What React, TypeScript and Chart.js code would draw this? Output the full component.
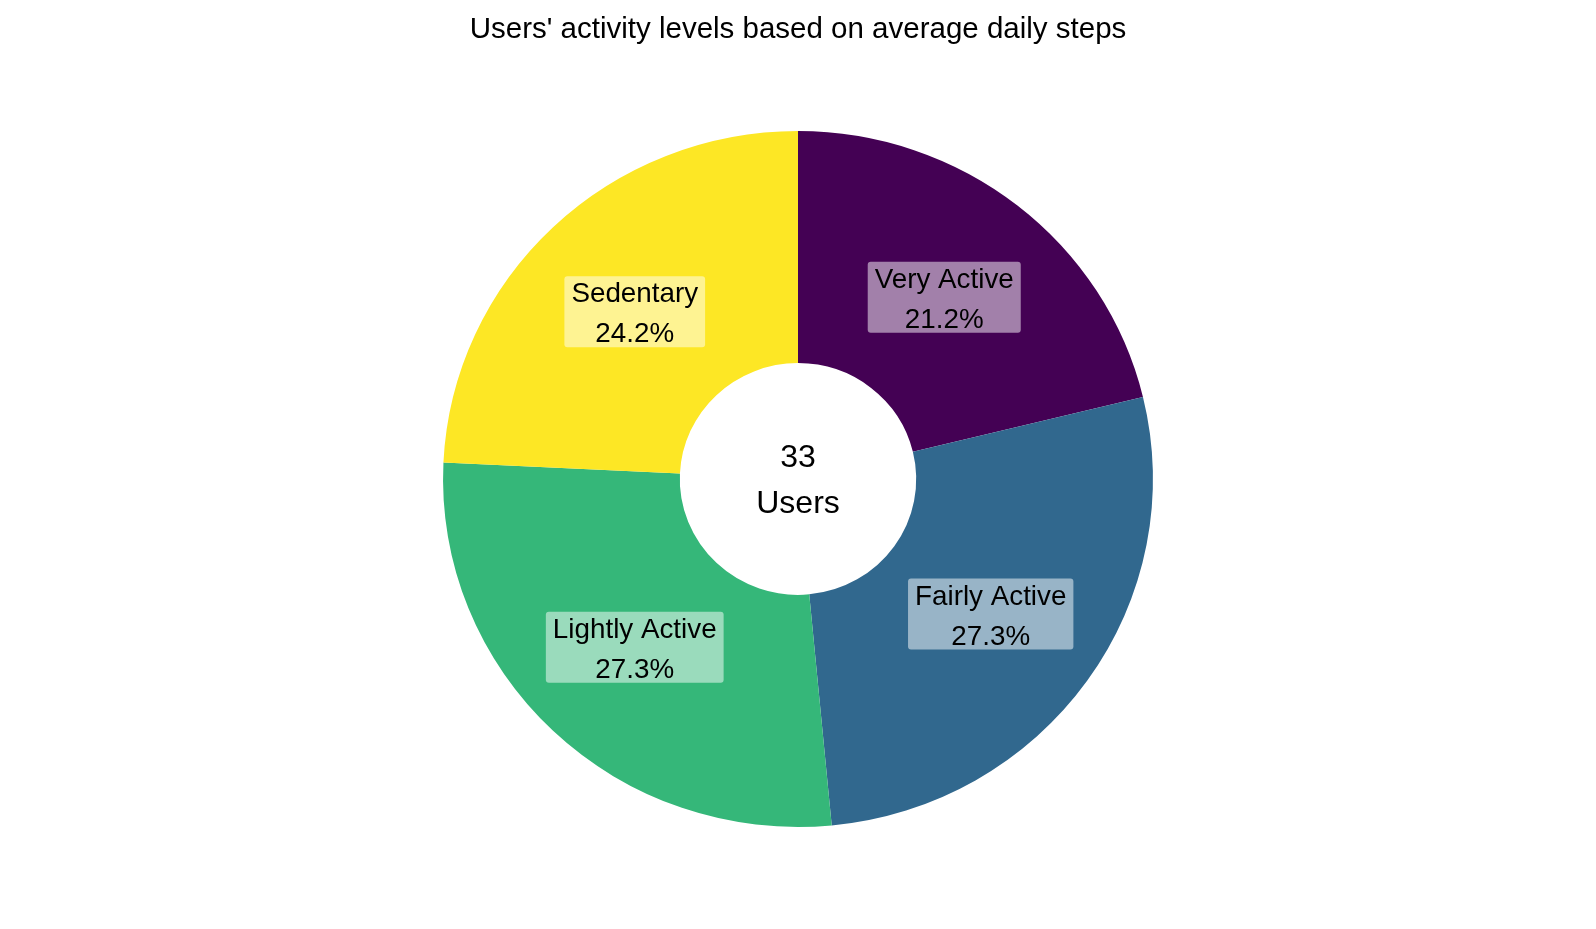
import React, { useEffect, useRef } from "react";
import { Chart, registerables } from "chart.js";

Chart.register(...registerables);

const categories = ["Very Active", "Fairly Active", "Lightly Active", "Sedentary"];
const userCounts = [7, 9, 9, 8];
const sliceColors = ["#440154", "#31688e", "#35b779", "#fde725"];
const titleText = "Users' activity levels based on average daily steps";
const centerLines = ["33", "Users"];

const FONT = "'Liberation Sans', Arial, Helvetica, sans-serif";
const X_STRETCH = 1.02;

function roundRect(ctx: CanvasRenderingContext2D, x: number, y: number, w: number, h: number, r: number) {
  ctx.beginPath();
  ctx.moveTo(x + r, y);
  ctx.lineTo(x + w - r, y);
  ctx.quadraticCurveTo(x + w, y, x + w, y + r);
  ctx.lineTo(x + w, y + h - r);
  ctx.quadraticCurveTo(x + w, y + h, x + w - r, y + h);
  ctx.lineTo(x + r, y + h);
  ctx.quadraticCurveTo(x, y + h, x, y + h - r);
  ctx.lineTo(x, y + r);
  ctx.quadraticCurveTo(x, y, x + r, y);
  ctx.closePath();
}

const stretchPlugin = {
  id: "stretch",
  beforeDatasetsDraw(chart: any) {
    const arc = chart.getDatasetMeta(0).data[0];
    const ctx = chart.ctx;
    ctx.save();
    ctx.translate(arc.x, arc.y);
    ctx.scale(X_STRETCH, 1);
    ctx.translate(-arc.x, -arc.y);
  },
  afterDatasetsDraw(chart: any) {
    chart.ctx.restore();
  },
};

const labelPlugin = {
  id: "sliceLabels",
  afterDatasetsDraw(chart: any) {
    const ctx: CanvasRenderingContext2D = chart.ctx;
    const meta = chart.getDatasetMeta(0);
    const data: number[] = chart.data.datasets[0].data;
    const total = data.reduce((a, b) => a + b, 0);
    ctx.save();
    meta.data.forEach((arc: any, i: number) => {
      const p = arc.getCenterPoint();
      const px = arc.x + (p.x - arc.x) * X_STRETCH;
      const py = p.y + 0.5;
      const l1 = String(chart.data.labels[i]);
      const l2 = ((data[i] / total) * 100).toFixed(1) + "%";
      ctx.font = `27.8px ${FONT}`;
      const w = Math.max(ctx.measureText(l1).width, ctx.measureText(l2).width);
      const bw = w + 14;
      const bh = 71;
      ctx.fillStyle = "rgba(255,255,255,0.5)";
      roundRect(ctx, px - bw / 2, py - bh / 2, bw, bh, 3);
      ctx.fill();
      ctx.fillStyle = "#000";
      ctx.textAlign = "center";
      ctx.textBaseline = "middle";
      ctx.fillText(l1, px, py - 17);
      ctx.fillText(l2, px, py + 23);
    });
    const c = meta.data[0];
    ctx.font = `32px ${FONT}`;
    ctx.fillStyle = "#000";
    ctx.textAlign = "center";
    ctx.textBaseline = "middle";
    ctx.fillText(centerLines[0], c.x, c.y - 21);
    ctx.fillText(centerLines[1], c.x, c.y + 25);
    ctx.restore();
  },
};

export default function App() {
  const ref = useRef<HTMLCanvasElement | null>(null);
  useEffect(() => {
    if (!ref.current) return;
    const chart = new Chart(ref.current, {
      type: "doughnut",
      data: {
        labels: categories,
        datasets: [
          {
            data: userCounts,
            backgroundColor: sliceColors,
            borderWidth: 0,
          },
        ],
      },
      options: {
        animation: false,
        responsive: false,
        cutout: "33.3%",
        layout: { padding: { top: 0, bottom: 102, left: 0, right: 0 } },
        plugins: {
          legend: { display: false },
          tooltip: { enabled: false },
          title: {
            display: true,
            text: titleText,
            color: "#000",
            font: { family: FONT, size: 29.5, weight: "normal", lineHeight: 1.2 },
            padding: { top: 12.3, bottom: 83.3 },
          },
        },
      },
      plugins: [stretchPlugin, labelPlugin],
    });
    return () => chart.destroy();
  }, []);
  return (
    <div style={{ position: "fixed", left: 0, top: 0, width: 1596, height: 929, background: "#fff" }}>
      <canvas ref={ref} width={1596} height={929} style={{ width: 1596, height: 929 }} />
    </div>
  );
}
